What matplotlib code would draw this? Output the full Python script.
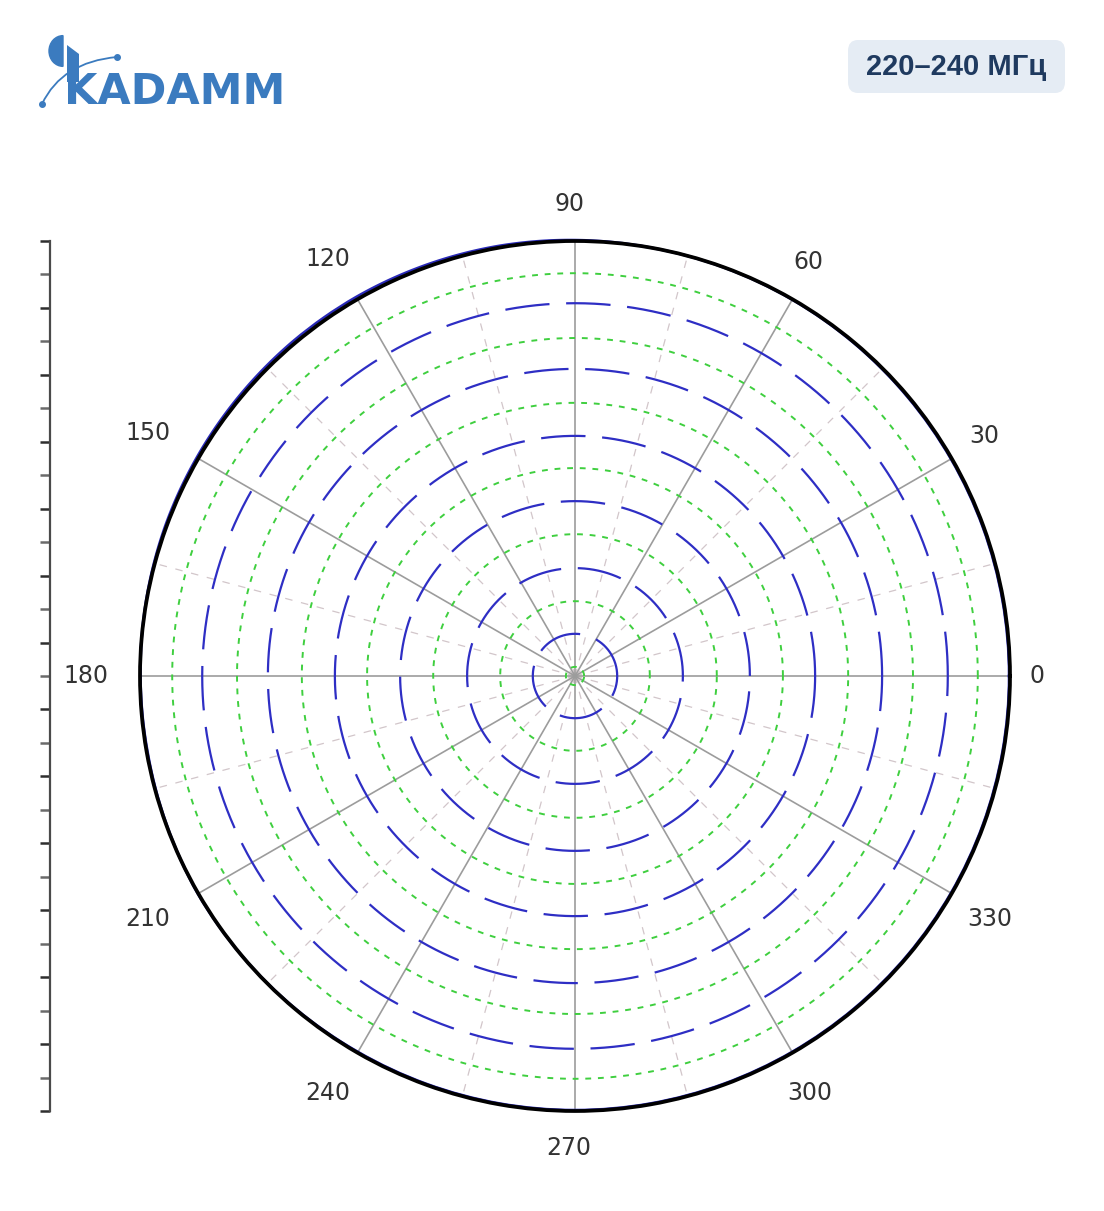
import numpy as np
import matplotlib
matplotlib.use("Agg")
import matplotlib.pyplot as plt
import matplotlib.transforms as mtransforms
from matplotlib.patches import Wedge, FancyBboxPatch, Polygon, PathPatch
from matplotlib.path import Path

# ---------------- data ----------------
angle_labels = [0, 30, 60, 90, 120, 150, 180, 210, 240, 270, 300, 330]
major_spokes = [0, 30, 60, 90, 120, 150, 180, 210, 240, 270, 300, 330]
minor_spokes = [15, 45, 75, 105, 135, 165, 195, 225, 255, 285, 315, 345]
blue_rings = [0.097, 0.248, 0.402, 0.552, 0.706, 0.857]
green_rings = [0.021, 0.172, 0.326, 0.478, 0.628, 0.777, 0.926]
pattern_angles = [0, 20, 40, 60, 80, 100, 110, 120, 130, 140, 150, 160, 170, 180,
                  190, 200, 210, 220, 240, 260, 280, 300, 320, 340, 360]
pattern_blue = [0.998, 0.998, 0.998, 0.999, 1.000, 1.004, 1.005, 1.006, 1.006, 1.005,
                1.004, 1.003, 1.001, 0.999, 0.998, 0.999, 1.001, 1.000, 0.998, 0.998,
                0.998, 0.998, 0.998, 0.998, 0.998]
pattern_black = [1.0] * len(pattern_angles)
left_ticks = [k / 13 for k in range(-13, 14)]
badge_text = "220\u2013240 МГц"
logo_text = "KADAMM"

W, H = 1104, 1211
fig = plt.figure(figsize=(W / 100, H / 100), dpi=100)
fig.patch.set_facecolor("white")

def fx(x):
    return x / W

def fy(y):
    return 1 - y / H

def smooth(line, steps=40):
    line.recache(always=True)
    line._path._interpolation_steps = steps
    return line

# ---------------- polar axes ----------------
cx, cy, R = 575, 676, 435
ax = fig.add_axes([fx(cx - R), fy(cy + R), 2 * R / W, 2 * R / H], projection="polar")
ax.set_ylim(0, 1)
ax.set_xticks([])
ax.set_yticks([])
ax.grid(False)
ax.spines["polar"].set_visible(False)
ax.set_facecolor("white")

theta = np.linspace(0, 2 * np.pi, 1441)

for a in minor_spokes:
    t = np.deg2rad(a)
    ax.plot([t, t], [0, 1], color="#d2c6ca", lw=0.9, linestyle=(0, (6, 7)), zorder=1)

for a in major_spokes:
    t = np.deg2rad(a)
    ax.plot([t, t], [0, 1], color="#9c9c9c", lw=1.2, zorder=2)

for r in green_rings:
    ax.plot(theta, np.full_like(theta, r), color="#3fcf3f", lw=1.4,
            linestyle=(0, (3, 3.5)), zorder=3)

for r in blue_rings:
    ax.plot(theta, np.full_like(theta, r), color="#2e2ec4", lw=1.6,
            linestyle=(0, (20, 7.5)), zorder=4)

pa = np.deg2rad(pattern_angles)
lb, = ax.plot(pa, pattern_blue, color="#2a2ab8", lw=2.0, zorder=5, clip_on=False)
smooth(lb)
lk, = ax.plot(pa, pattern_black, color="black", lw=2.7, zorder=6, clip_on=False)
smooth(lk)

label_fs = 17
shift = mtransforms.ScaledTranslation(-6 / 100, 0, fig.dpi_scale_trans)
for a in angle_labels:
    t = np.deg2rad(a)
    lab = str(a)
    w_px = 15.5 * len(lab)
    h_px = 18
    r_px = R + 25 + abs(np.cos(t)) * w_px / 2 + abs(np.sin(t)) * (h_px / 2 + 3)
    ax.text(t, r_px / R, lab, ha="center", va="center",
            fontsize=label_fs, color="#333333", family="DejaVu Sans",
            transform=ax.transData + shift)

# ---------------- left scale ----------------
lax = fig.add_axes([fx(50), fy(cy + R), 0.001, 2 * R / H])
lax.set_ylim(-1, 1)
lax.set_xticks([])
for s in ["top", "right", "bottom"]:
    lax.spines[s].set_visible(False)
lax.spines["left"].set_color("#4a4a4a")
lax.spines["left"].set_linewidth(1.6)
lax.set_yticks(left_ticks[::2])
lax.set_yticks(left_ticks[1::2], minor=True)
lax.tick_params(axis="y", which="major", length=7, width=1.8, color="#2e2e2e",
                labelleft=False)
lax.tick_params(axis="y", which="minor", length=7, width=1.8, color="#6a6a6a",
                labelleft=False)
lax.patch.set_visible(False)

# ---------------- logo ----------------
logo_col = "#3b7bbf"
fig.text(fx(64), fy(104), logo_text, fontsize=31, fontweight="bold",
         color=logo_col, family="DejaVu Sans", ha="left", va="baseline")
# tall K stem
stem = Polygon([(fx(67), fy(45)), (fx(79), fy(54)), (fx(79), fy(82)), (fx(67), fy(82))],
               closed=True, transform=fig.transFigure, color=logo_col, lw=0)
fig.patches.append(stem)
# half disc
disc = Wedge((fx(63), fy(51)), 14 / W, 90, 270, transform=fig.transFigure,
             color=logo_col)
fig.patches.append(disc)
# arc with dots
p0 = (fx(42), fy(104))
p1 = (fx(62), fy(62))
p2 = (fx(117), fy(57))
arc = PathPatch(Path([p0, p1, p2], [Path.MOVETO, Path.CURVE3, Path.CURVE3]),
                transform=fig.transFigure, fill=False, edgecolor=logo_col, lw=1.3)
fig.patches.append(arc)
fig.lines.append(plt.Line2D([p0[0], p2[0]], [p0[1], p2[1]], transform=fig.transFigure,
                            linestyle="none", marker="o", markersize=4,
                            color=logo_col))

# ---------------- badge ----------------
badge = FancyBboxPatch((fx(848), fy(93)), (1065 - 848) / W, (93 - 40) / H,
                       boxstyle="round,pad=0,rounding_size=0.009",
                       transform=fig.transFigure, facecolor="#e5ecf4",
                       edgecolor="none")
fig.patches.append(badge)
fig.text(fx(956), fy(67), badge_text, fontsize=21, fontweight="bold",
         color="#1f3a5f", family="Liberation Sans", ha="center", va="center")

fig.savefig("out.png", dpi=100, facecolor="white")
